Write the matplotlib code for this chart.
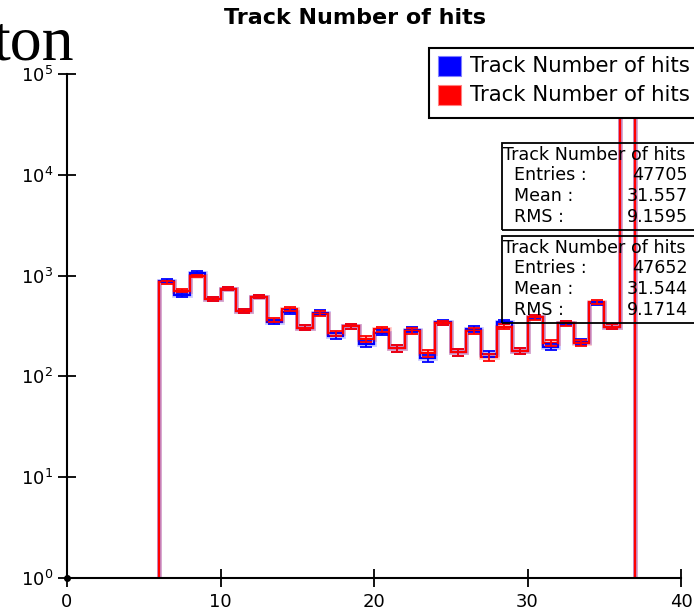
import numpy as np
import matplotlib
matplotlib.use('Agg')
import matplotlib.pyplot as plt
from matplotlib.patches import Rectangle

# bin edges 6..37, one unit wide
edges = np.arange(6, 38)
blue_counts = [890, 645, 1070, 590, 740, 445, 620, 347, 433, 303, 430, 252, 316, 212, 272,
               190, 290, 151, 345, 173, 296, 167, 347, 179, 390, 196, 340, 220, 530, 310, 40000]
red_counts = [860, 708, 990, 586, 740, 445, 620, 363, 470, 303, 420, 267, 316, 236, 294,
              190, 282, 170, 340, 173, 282, 155, 310, 179, 386, 215, 335, 214, 550, 310, 40000]

hist_name = 'Track Number of hits'
stats1 = [('Entries :', '47705'), ('Mean :', '31.557'), ('RMS :', '9.1595')]
stats2 = [('Entries :', '47652'), ('Mean :', '31.544'), ('RMS :', '9.1714')]

fig = plt.figure(figsize=(6.94, 6.10), dpi=100)
ax = fig.add_axes([67/694, 32/610, 614/694, 504/610])

centers = (edges[:-1] + edges[1:]) / 2
for counts, col in [(blue_counts, '#0000ff'), (red_counts, '#ff0000')]:
    counts = np.array(counts, dtype=float)
    ax.stairs(counts, edges, baseline=1, color=col, lw=3.5, alpha=0.2)
    ax.stairs(counts, edges, baseline=1, color=col, lw=1.6)
    ax.errorbar(centers, counts, yerr=np.sqrt(counts), fmt='none', ecolor=col,
                elinewidth=1.3, capsize=4.5, capthick=1.3)

ax.set_yscale('log')
ax.set_xlim(0, 40)
ax.set_ylim(1, 1e5)
ax.minorticks_off()
ax.set_xticks([0, 10, 20, 30, 40])
ax.set_yticks([1, 10, 100, 1000, 1e4, 1e5])
ax.spines['top'].set_visible(False)
ax.spines['right'].set_visible(False)
ax.spines['left'].set_linewidth(1.5)
ax.spines['bottom'].set_linewidth(1.5)
ax.tick_params(direction='inout', length=13, width=1.3, labelsize=13, colors='black')
ax.tick_params(axis='x', pad=4)
ax.plot([0], [1], 'o', color='black', ms=4, clip_on=False, zorder=5)

fig.text(355/694, 1 - 18/610, hist_name, ha='center', va='center',
         fontsize=16, fontweight='bold')
fig.text(-8/694, 1 - 60/610, 'ton', ha='left', va='baseline',
         fontsize=46, family='Liberation Serif')

# stats boxes (no fill, drawn under the histogram lines)
for top, stats in [(143, stats1), (236, stats2)]:
    fig.patches.append(Rectangle((502/694, 1 - (top + 87)/610), 300/694, 87/610,
                                 transform=fig.transFigure, fill=False,
                                 edgecolor='black', lw=1.3, zorder=0))
    fig.text(503/694, 1 - (top + 12)/610, hist_name, ha='left', va='center', fontsize=12.6)
    for i, (k, v) in enumerate(stats):
        y = 1 - (top + 32 + i * 21)/610
        fig.text(514/694, y, k, ha='left', va='center', fontsize=12.6)
        fig.text(688/694, y, v, ha='right', va='center', fontsize=12.6)

# legend box
fig.patches.append(Rectangle((429/694, 1 - 118/610), 300/694, 70/610,
                             transform=fig.transFigure, facecolor='white',
                             edgecolor='black', lw=1.5, zorder=10))
for y0, col in [(56, '#0000ff'), (85, '#ff0000')]:
    fig.patches.append(Rectangle((438/694, 1 - (y0 + 20)/610), 23/694, 20/610,
                                 transform=fig.transFigure, facecolor=col,
                                 edgecolor='#8080ff' if col == '#0000ff' else '#ff8080',
                                 lw=0.8, zorder=11))
    fig.text(470/694, 1 - (y0 + 10)/610, hist_name, ha='left', va='center',
             fontsize=15.3, zorder=12)

fig.savefig('out.png', dpi=100)
